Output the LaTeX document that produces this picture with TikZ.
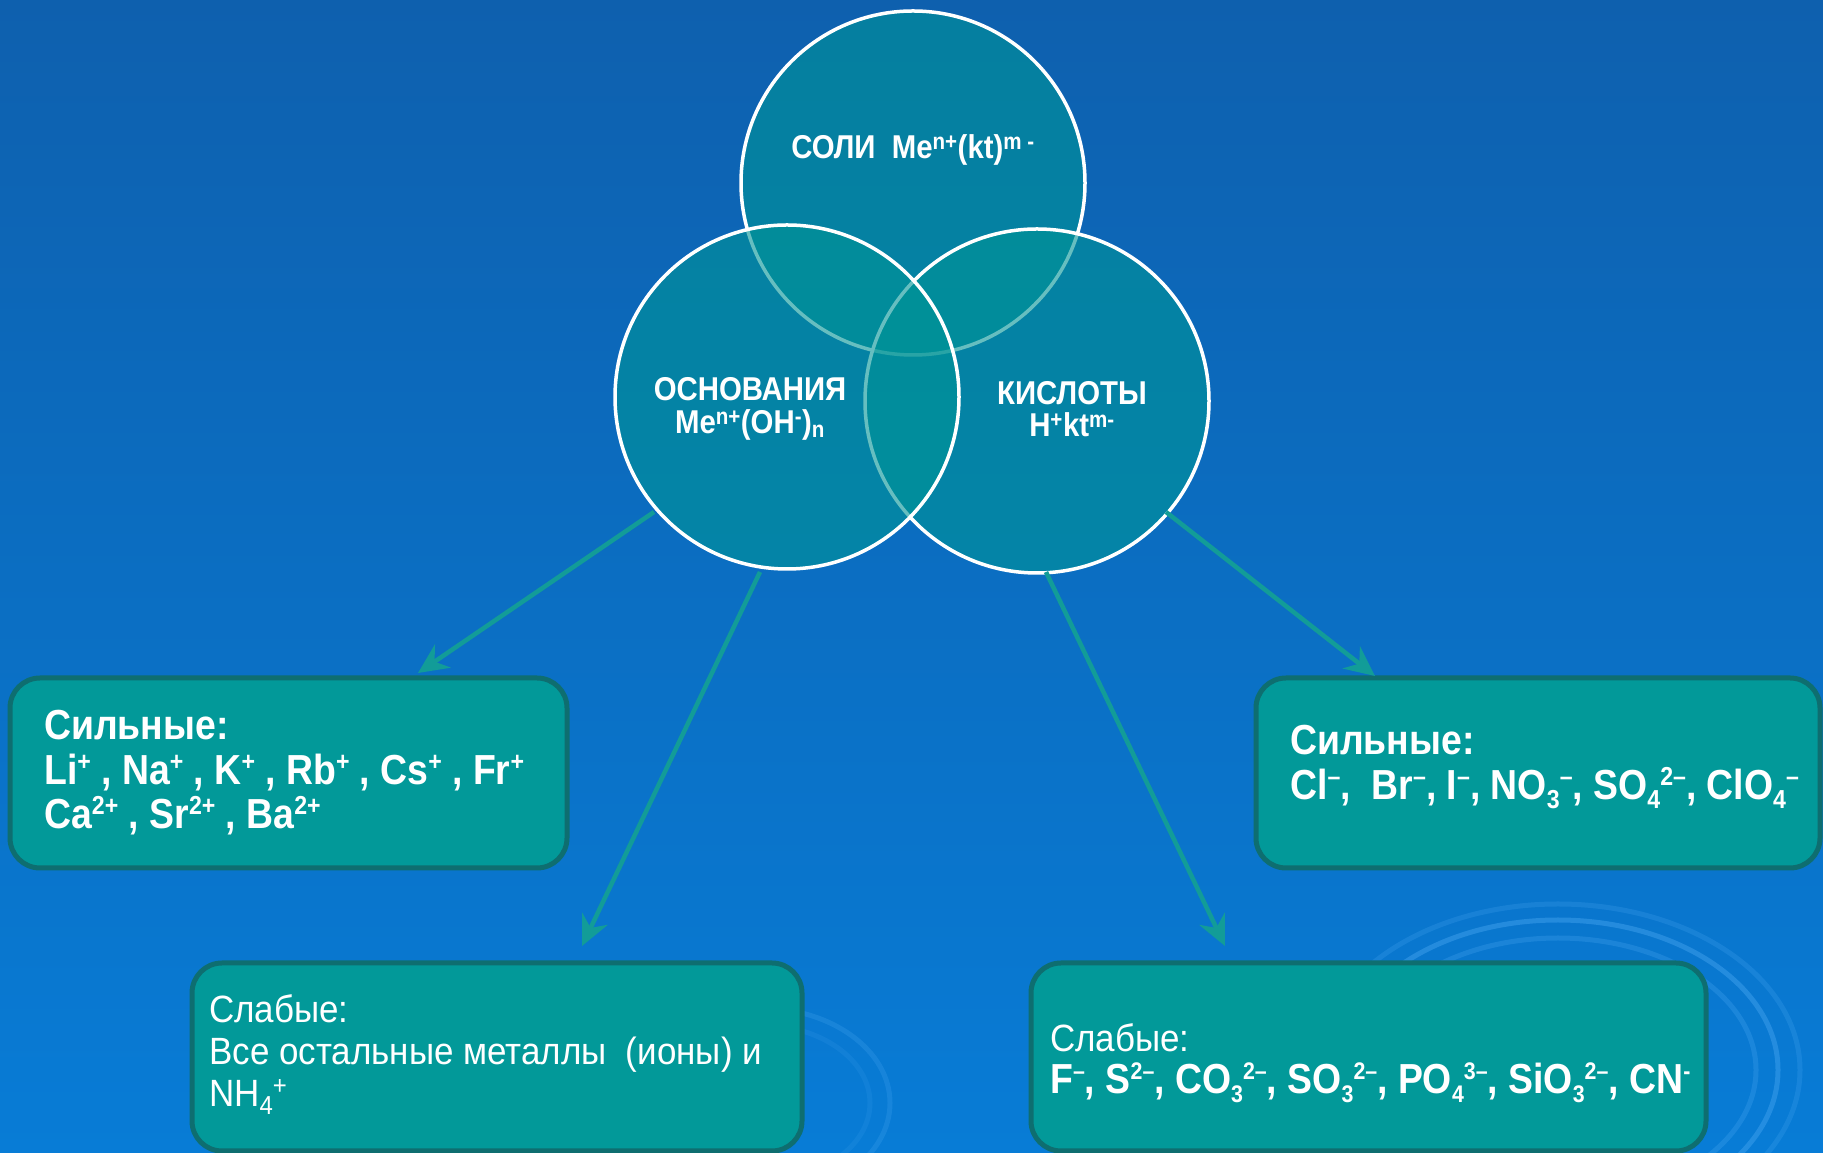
\documentclass[tikz,border=0pt]{standalone}
\usepackage{fontspec}
\setmainfont{Liberation Sans}[FakeStretch=0.92, BoldFeatures={FakeStretch=0.89}]
\usetikzlibrary{arrows.meta}
\definecolor{bgtop}{RGB}{14,96,174}
\definecolor{bgbot}{RGB}{8,124,214}
\definecolor{circfill}{RGB}{0,148,150}
\definecolor{boxfill}{RGB}{2,153,153}
\definecolor{boxline}{RGB}{14,110,112}
\definecolor{arrowc}{RGB}{18,156,152}
\definecolor{ripplec}{RGB}{70,165,240}
\def\scrsize{26}
\newcommand\sps[1]{\raisebox{0.34em}{\fontsize{\scrsize}{\scrsize}\selectfont #1}}
\newcommand\sbs[1]{\raisebox{-0.2em}{\fontsize{\scrsize}{\scrsize}\selectfont #1}}
\begin{document}
\begin{tikzpicture}[x=1pt,y=1pt,
  venn/.style={circle, minimum size=344pt, inner sep=0pt, fill=circfill, fill opacity=0.6, draw=white, draw opacity=1, line width=3.5pt},
  box/.style={rectangle, rounded corners=30pt, fill=boxfill, draw=boxline, line width=5pt, inner sep=0pt},
  txt/.style={text=white, inner sep=0pt, anchor=base west},
  bigb/.style={font=\fontsize{42}{44}\selectfont\bfseries},
  bigr/.style={font=\fontsize{38}{42}\selectfont},
  circt/.style={text=white, inner sep=0pt, anchor=base, font=\fontsize{33}{35}\selectfont\bfseries},
  arr/.style={draw=arrowc, line width=4.5pt, -{Stealth[length=30pt, width=28pt, inset=10pt]}},
  ripple/.style={draw=ripplec, line width=5pt}
]
\useasboundingbox (0,0) rectangle (1823,1153);
\shade[top color=bgtop, bottom color=bgbot] (0,0) rectangle (1823,1153);

% background ripples
\draw[ripple, opacity=0.45] (1558,83) ellipse [x radius=220, y radius=150];
\draw[ripple, opacity=0.3] (1558,83) ellipse [x radius=198, y radius=132];
\draw[ripple, opacity=0.25] (1558,83) ellipse [x radius=242, y radius=166];
\draw[ripple, opacity=0.25] (760,50) ellipse [x radius=130, y radius=95];
\draw[ripple, opacity=0.15] (760,50) ellipse [x radius=110, y radius=78];

% Venn circles (order: top, right, left)
\node[venn] (soli) at (913,970) {};
\node[venn] (kisl) at (1037,752) {};
\node[venn] (osn) at (787,756) {};

\node[circt] (soliT) at (913,994) {СОЛИ\ \ Me\textsuperscript{n+}(kt)\textsuperscript{m -}};
\node[circt] (osnT1) at (750,752) {ОСНОВАНИЯ};
\node[circt] (osnT2) at (750,719) {Me\textsuperscript{n+}(OH\textsuperscript{-})\textsubscript{n}};
\node[circt] (kislT1) at (1072,748) {КИСЛОТЫ};
\node[circt] (kislT2) at (1072,716) {H\textsuperscript{+}kt\textsuperscript{m-}};

% boxes
\node[box, minimum width=557pt, minimum height=190pt] (b1) at (288.5,380) {};
\node[box, minimum width=564pt, minimum height=190pt] (b3) at (1538,380) {};
\node[box, minimum width=610pt, minimum height=188pt] (b2) at (497,96) {};
\node[box, minimum width=675pt, minimum height=188pt] (b4) at (1368.5,96) {};

% arrows
\coordinate (a1s) at (654,641);
\coordinate (a1e) at (418,480);
\coordinate (a2s) at (760,581);
\coordinate (a2e) at (582,207);
\coordinate (a3s) at (1046,581);
\coordinate (a3e) at (1225,207);
\coordinate (a4s) at (1166,641);
\coordinate (a4e) at (1375,477);
\draw[arr] (a1s) -- (a1e);
\draw[arr] (a2s) -- (a2e);
\draw[arr] (a3s) -- (a3e);
\draw[arr] (a4s) -- (a4e);

% box 1 text
\node[txt, bigb] (b1l1) at (44,413) {Сильные:};
\node[txt, bigb] (b1l2) at (44,368) {Li\sps{+} , Na\sps{+} , K\sps{+} , Rb\sps{+} , Cs\sps{+} , Fr\sps{+}};
\node[txt, bigb] (b1l3) at (44,324) {Ca\sps{2+} , Sr\sps{2+} , Ba\sps{2+}};

% box 3 text
\node[txt, bigb] (b3l1) at (1290,398) {Сильные:};
\node[txt, bigb] (b3l2) at (1290,353) {Cl\sps{–},\ \ Br\sps{–}, I\sps{–}, NO\sbs{3}\sps{–}, SO\sbs{4}\sps{2–}, ClO\sbs{4}\sps{–}};

% box 2 text
\node[txt, bigr] (b2l1) at (209,130) {Слабые:};
\node[txt, bigr] (b2l2) at (209,88) {Все остальные металлы\ \ (ионы) и};
\node[txt, bigr] (b2l3) at (209,46) {NH\sbs{4}\sps{+}};

% box 4 text
\node[txt, bigr] (b4l1) at (1050,101) {Слабые:};
\node[txt, bigb] (b4l2) at (1050,59) {\def\scrsize{24}F\sps{–}, S\sps{2–}, CO\sbs{3}\sps{2–}, SO\sbs{3}\sps{2–}, PO\sbs{4}\sps{3–}, SiO\sbs{3}\sps{2–}, CN\sps{-}};
\end{tikzpicture}
\end{document}
